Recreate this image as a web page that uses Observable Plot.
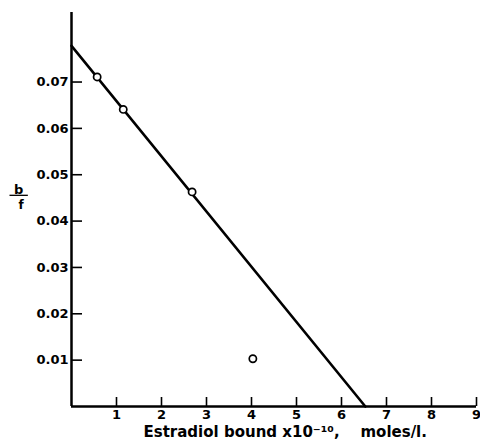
<!DOCTYPE html>
<html>
<head>
<meta charset="utf-8">
<script src="https://cdn.jsdelivr.net/npm/d3@7"></script>
<script src="https://cdn.jsdelivr.net/npm/@observablehq/plot@0.6"></script>
<style>
  html, body { margin: 0; padding: 0; background: #fff; }
  #chart svg { display: block; }
</style>
</head>
<body>
<div id="chart"></div>
<script>
// Observed points (Scatchard plot)
const boundX = [0.57, 1.15, 2.68, 4.03];
const ratioBF = [0.0711, 0.0641, 0.0463, 0.0103];
// Fitted line endpoints
const fitX = [0, 6.53];
const fitY = [0.0778, 0];
// Tick labels
const xTicks = [1, 2, 3, 4, 5, 6, 7, 8, 9];
const yTicks = [0.01, 0.02, 0.03, 0.04, 0.05, 0.06, 0.07];
const xLabel = "Estradiol bound x10\u207B\u00B9\u2070,    moles/l.";
const yNum = "\u00A0b\u00A0";
const yDen = "f";

const points = boundX.map((x, i) => ({x, y: ratioBF[i]}));
const fit = fitX.map((x, i) => ({x, y: fitY[i]}));

const font = "DejaVu Sans, sans-serif";

const chart = Plot.plot({
  width: 480,
  height: 444,
  marginLeft: 71,
  marginRight: 4,
  marginTop: 12,
  marginBottom: 38,
  style: {fontFamily: font, background: "#fff", color: "#000", overflow: "visible"},
  x: {domain: [0, 9]},
  y: {domain: [0, 0.085]},
  marks: [
    // axis lines
    Plot.ruleX([0], {y1: 0, y2: 0.085, stroke: "#000", strokeWidth: 2.5}),
    Plot.ruleY([0], {x1: 0, x2: 9, stroke: "#000", strokeWidth: 2.5}),
    // inward ticks
    Plot.axisX(xTicks, {tickSize: -9, tickFormat: () => "", strokeWidth: 1.6, label: null}),
    Plot.axisY(yTicks, {tickSize: -11, tickFormat: () => "", strokeWidth: 1.6, label: null}),
    // tick labels
    Plot.axisX(xTicks, {tickSize: 0, tickPadding: 3, fontSize: 13, fontWeight: "bold", label: null}),
    Plot.axisY(yTicks, {tickSize: 0, tickPadding: 3, fontSize: 13, fontWeight: "bold", label: null,
      tickFormat: d => d.toFixed(2)}),
    // fitted line
    Plot.line(fit, {x: "x", y: "y", stroke: "#000", strokeWidth: 2.6}),
    // data points
    Plot.dot(points, {x: "x", y: "y", r: 3.6, stroke: "#000", fill: "#fff", strokeWidth: 1.7}),
    // y label as fraction b / f
    Plot.text([yNum], {frameAnchor: "left", dx: -62, dy: -20, fontSize: 13, fontWeight: "bold", text: d => d}),
    Plot.text([yDen], {frameAnchor: "left", dx: -53, dy: -4, fontSize: 12, fontWeight: "bold", text: d => d}),
    // x label
    Plot.text([xLabel], {frameAnchor: "bottom-left", dx: 72, dy: 30, textAnchor: "start",
      fontSize: 15, fontWeight: "bold", text: d => d})
  ]
});
// fraction bar: underline the numerator
chart.querySelectorAll("text").forEach(t => {
  if (t.textContent === yNum) {
    t.style.textDecoration = "underline";
    t.style.textDecorationThickness = "2px";
    t.style.textUnderlineOffset = "2px";
  }
});
document.getElementById("chart").appendChild(chart);
</script>
</body>
</html>
